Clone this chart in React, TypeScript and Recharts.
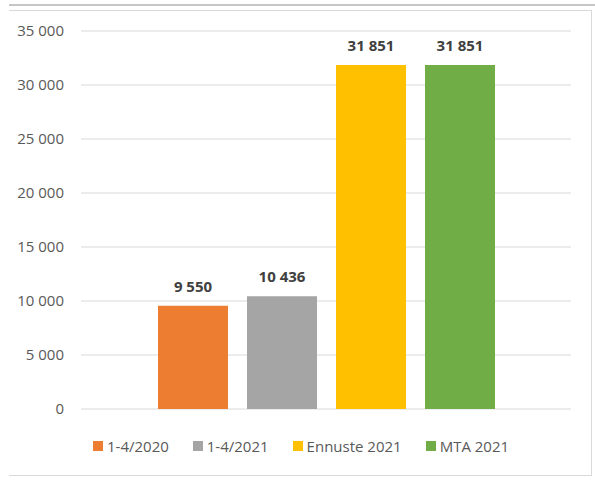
import { BarChart, Bar, XAxis, YAxis, CartesianGrid, Legend, LabelList } from "recharts";

const seriesNames = ["1-4/2020", "1-4/2021", "Ennuste 2021", "MTA 2021"];
const seriesValues = [9550, 10436, 31851, 31851];
const yTicks = [0, 5000, 10000, 15000, 20000, 25000, 30000, 35000];
const colors = ["#ED7D31", "#A5A5A5", "#FFC000", "#70AD47"];

const keys = seriesNames.map((_, i) => `s${i}`);
const chartData = [
  keys.reduce<Record<string, number | string>>(
    (row, k, i) => {
      row[k] = seriesValues[i];
      return row;
    },
    { name: "" }
  ),
];

const formatThousands = (v: number) =>
  String(v).replace(/\B(?=(\d{3})+(?!\d))/g, " ");

const FONT = "'Open Sans', sans-serif";

const LegendContent = () => (
  <div
    style={{
      display: "flex",
      alignItems: "center",
      height: 20,
      paddingLeft: 93,
      fontFamily: FONT,
      fontSize: 15,
      color: "#595959",
    }}
  >
    {seriesNames.map((name, i) => (
      <div
        key={name}
        style={{ display: "flex", alignItems: "center", marginRight: 24 }}
      >
        <span
          style={{
            display: "inline-block",
            width: 10,
            height: 10,
            background: colors[i],
            marginRight: 4,
          }}
        />
        <span style={{ whiteSpace: "nowrap" }}>{name}</span>
      </div>
    ))}
  </div>
);

export default function App() {
  return (
    <div
      style={{
        position: "absolute",
        left: 0,
        top: 0,
        width: 595,
        height: 480,
        background: "#fff",
        fontFamily: FONT,
      }}
    >
      <div
        style={{
          position: "absolute",
          left: 9,
          top: 4,
          width: 586,
          height: 2,
          background: "#c6c6c6",
        }}
      />
      <div
        style={{
          position: "absolute",
          left: 9,
          top: 10,
          width: 582,
          height: 464,
          borderTop: "1px solid #d9d9d9",
          borderRight: "1px solid #d9d9d9",
          borderBottom: "1px solid #d9d9d9",
        }}
      />
      <div style={{ position: "absolute", left: 0, top: 0 }}>
        <BarChart
          width={595}
          height={480}
          data={chartData}
          margin={{ top: 31, right: 24, left: 0, bottom: 51 }}
          barSize={70}
          barGap={19}
        >
          <CartesianGrid
            vertical={false}
            stroke="#d9d9d9"
            strokeWidth={1}
          />
          <XAxis dataKey="name" hide />
          <YAxis
            width={81}
            domain={[0, 35000]}
            ticks={yTicks}
            interval={0}
            axisLine={false}
            tickLine={false}
            tickSize={0}
            tickMargin={17}
            tickFormatter={formatThousands}
            tick={{ fontSize: 15, fill: "#595959", fontFamily: FONT }}
          />
          <Legend
            verticalAlign="bottom"
            content={<LegendContent />}
            wrapperStyle={{ top: 436, left: 0, width: 595 }}
          />
          {keys.map((k, i) => (
            <Bar
              key={k}
              dataKey={k}
              name={seriesNames[i]}
              fill={colors[i]}
              isAnimationActive={false}
            >
              <LabelList
                dataKey={k}
                position="top"
                offset={14}
                formatter={(v: number) => formatThousands(v)}
                style={{
                  fontSize: 15,
                  fontWeight: 700,
                  fill: "#404040",
                  fontFamily: FONT,
                }}
              />
            </Bar>
          ))}
        </BarChart>
      </div>
    </div>
  );
}
